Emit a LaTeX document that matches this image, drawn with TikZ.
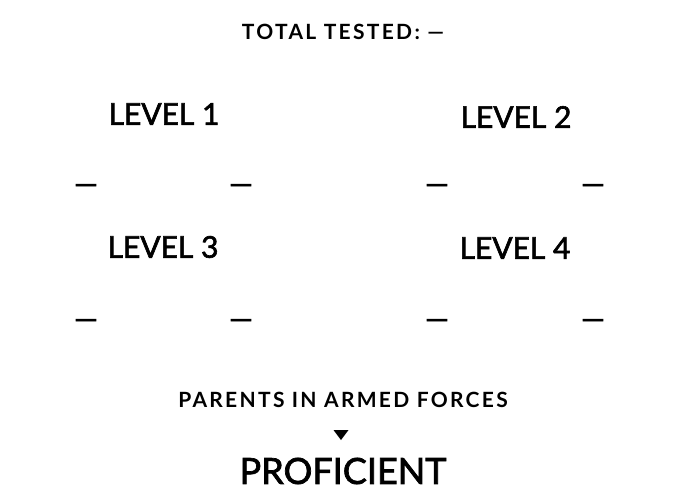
\documentclass[tikz,border=0pt]{standalone}
\usepackage{fontspec}
\setmainfont{Lato}
\newfontfamily\capsfont[LetterSpace=11]{Lato Bold}
\newfontfamily\medfont[FakeBold=2]{Lato}
\usetikzlibrary{positioning}
\begin{document}
\begin{tikzpicture}[x=1pt, y=-1pt,
    head/.style={%
      font=\capsfont\fontsize{21}{24}\selectfont, inner sep=0pt
    },
    lvl/.style={%
      font=\medfont\fontsize{30}{34}\selectfont, inner sep=0pt
    },
    val/.style={%
      font=\medfont\fontsize{30}{34}\selectfont, inner sep=0pt
    },
    big/.style={%
      font=\medfont\fontsize{36}{40}\selectfont, inner sep=0pt
    }
]
    \useasboundingbox (0,0) rectangle (686,491);

    \node[head] (total)  at (343,32)   {TOTAL TESTED: —};

    \node[lvl]  (lvla)   at (164,114)  {LEVEL 1};
    \node[lvl]  (lvlb)   at (516,117)  {LEVEL 2};
    \node[lvl]  (lvlc)   at (163,247)  {LEVEL 3};
    \node[lvl]  (lvld)   at (515,248)  {LEVEL 4};

    \foreach \y/\r in {189/a, 324/b}
      \foreach \x/\c in {86/1, 241/2, 437/3, 593/4}
        \node[val] (val\r\c) at (\x,\y) {—};

    \node[head] (forces) at (343,400)  {PARENTS IN ARMED FORCES};
    \coordinate (tip)    at (341,440);
    \fill (tip) -- ++(-7.5,-10) -- ++(15,0) -- cycle;
    \node[big]  (prof)   at (343,471)  {PROFICIENT};
\end{tikzpicture}
\end{document}
